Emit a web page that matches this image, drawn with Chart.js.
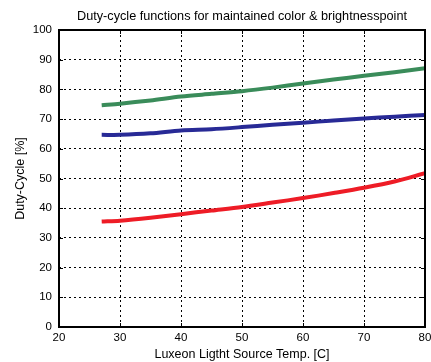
<!DOCTYPE html>
<html>
<head>
<meta charset="utf-8">
<script src="https://cdn.jsdelivr.net/npm/chart.js@4"></script>
<style>
  body { margin: 0; background: #fff; }
  #wrap { width: 431px; height: 362px; }
</style>
</head>
<body>
<div id="wrap"><canvas id="myChart"></canvas></div>
<script>
const temps = [27, 30, 35, 40, 45, 50, 55, 60, 65, 70, 75, 80];
const greenDuty = [74.7, 75.2, 76.3, 77.6, 78.5, 79.4, 80.6, 82.0, 83.3, 84.6, 85.8, 87.1];
const blueDuty = [64.7, 64.7, 65.2, 66.2, 66.6, 67.3, 68.1, 68.8, 69.5, 70.2, 70.8, 71.4];
const redDuty = [35.5, 35.8, 36.8, 38.0, 39.2, 40.4, 41.9, 43.4, 45.1, 46.9, 49.0, 51.8];
const titleText = "Duty-cycle functions for maintained color & brightnesspoint";

const font = "'Liberation Sans', Arial, sans-serif";

function pts(arr) {
  return temps.map((t, i) => ({ x: t, y: arr[i] }));
}

// matlab-like frame: box, inward ticks, title centred on the axes
const boxPlugin = {
  id: "box",
  afterDatasetsDraw(chart) {
    const a = chart.chartArea;
    const ctx = chart.ctx;
    const xs = chart.scales.x, ys = chart.scales.y;
    ctx.save();
    ctx.strokeStyle = "#000";
    ctx.lineWidth = 1;
    ctx.beginPath();
    xs.ticks.forEach(t => {
      const px = Math.round(xs.getPixelForValue(t.value)) + 0.5;
      ctx.moveTo(px, a.bottom); ctx.lineTo(px, a.bottom - 4);
      ctx.moveTo(px, a.top); ctx.lineTo(px, a.top + 4);
    });
    ys.ticks.forEach(t => {
      const py = Math.round(ys.getPixelForValue(t.value)) + 0.5;
      ctx.moveTo(a.left, py); ctx.lineTo(a.left + 4, py);
      ctx.moveTo(a.right, py); ctx.lineTo(a.right - 4, py);
    });
    ctx.stroke();
    ctx.lineWidth = 2;
    ctx.strokeRect(a.left, a.top, a.right - a.left, a.bottom - a.top);
    ctx.fillStyle = "#000";
    ctx.font = "12.7px " + font;
    ctx.textAlign = "center";
    ctx.textBaseline = "middle";
    ctx.fillText(titleText, (a.left + a.right) / 2, 16);
    ctx.restore();
  }
};

const ds = (data, color) => ({
  data: pts(data),
  borderColor: color,
  backgroundColor: color,
  borderWidth: 4,
  pointRadius: 0,
  tension: 0.3
});

new Chart(document.getElementById("myChart"), {
  type: "line",
  data: {
    datasets: [
      ds(greenDuty, "rgb(58,140,90)"),
      ds(blueDuty, "rgb(40,42,150)"),
      ds(redDuty, "rgb(238,28,38)")
    ]
  },
  options: {
    responsive: true,
    maintainAspectRatio: false,
    animation: false,
    layout: { padding: { left: 0, right: 6, top: 30, bottom: 0 } },
    plugins: {
      legend: { display: false },
      tooltip: { enabled: false },
      title: { display: false }
    },
    scales: {
      x: {
        type: "linear",
        min: 20,
        max: 80,
        ticks: { stepSize: 10, color: "#000", font: { family: font, size: 11.5 }, padding: 4 },
        grid: { color: "#000", lineWidth: 1, drawTicks: false },
        border: { display: false, dash: [2, 3] },
        title: {
          display: true,
          text: "Luxeon Ligtht Source Temp. [C]",
          color: "#000",
          font: { family: font, size: 12.5 },
          padding: { top: 0, bottom: 0 }
        },
        afterFit(scale) {
          scale.height = 35;
          scale.paddingLeft = 0;
          scale.paddingRight = 0;
        }
      },
      y: {
        min: 0,
        max: 100,
        ticks: { stepSize: 10, color: "#000", font: { family: font, size: 11.5 }, padding: 7 },
        grid: { color: "#000", lineWidth: 1, drawTicks: false },
        border: { display: false, dash: [2, 3] },
        title: {
          display: true,
          text: "Duty-Cycle [%]",
          color: "#000",
          font: { family: font, size: 12.5 },
          padding: { top: 13, bottom: 0 }
        },
        afterFit(scale) {
          scale.width = 59;
          scale.paddingTop = 0;
          scale.paddingBottom = 0;
        }
      }
    }
  },
  plugins: [boxPlugin]
});
</script>
</body>
</html>
